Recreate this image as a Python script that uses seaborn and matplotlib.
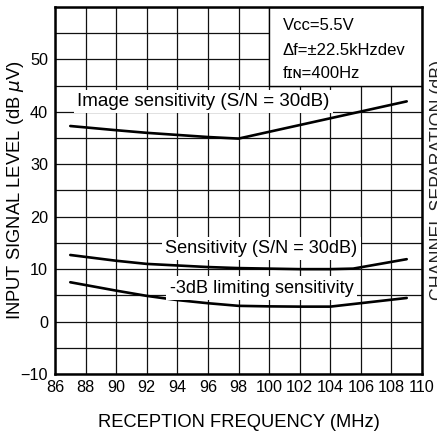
import matplotlib
matplotlib.use("Agg")
import matplotlib.pyplot as plt
import seaborn as sns
import pandas as pd
from matplotlib.patches import Rectangle

# ---- data ----
freq_image = [87, 90, 92, 94, 96, 98, 109]
image_sens = [37.3, 36.5, 36.0, 35.6, 35.2, 34.9, 42.0]

freq_sens = [87, 90, 92, 94, 96, 98, 100, 102, 104, 105.5, 109]
sens = [12.7, 11.6, 11.0, 10.7, 10.4, 10.2, 10.1, 10.0, 10.0, 10.1, 11.9]

freq_lim = [87, 90, 92, 94, 96, 98, 100, 102, 104, 109]
lim_sens = [7.5, 5.9, 4.9, 4.1, 3.5, 3.0, 2.9, 2.85, 2.85, 4.5]

series_names = ["Image sensitivity (S/N = 30dB)",
                "Sensitivity (S/N = 30dB)",
                "-3dB limiting sensitivity"]

x_ticks = list(range(86, 111, 2))
y_ticks = list(range(-10, 51, 10))
cond_lines = ["Vcc=5.5V", "\u0394f=\u00b122.5kHzdev", "f\u026a\u0274=400Hz"]

df = pd.concat([
    pd.DataFrame({"freq": freq_image, "level": image_sens, "series": series_names[0]}),
    pd.DataFrame({"freq": freq_sens, "level": sens, "series": series_names[1]}),
    pd.DataFrame({"freq": freq_lim, "level": lim_sens, "series": series_names[2]}),
])

sns.set_style("white")
plt.rcParams["font.family"] = ["Liberation Sans", "DejaVu Sans"]
plt.rcParams.update({"text.color": "black", "axes.labelcolor": "black",
                     "xtick.color": "black", "ytick.color": "black"})

fig = plt.figure(figsize=(4.37, 4.34), dpi=100)
ax = fig.add_axes([55 / 437, 60 / 434, 367 / 437, 367 / 434])

sns.lineplot(data=df, x="freq", y="level", hue="series", units="series",
             estimator=None, palette=["black"] * 3, legend=False,
             linewidth=1.9, ax=ax, zorder=3)

ax.set_xlim(86, 110)
ax.set_ylim(-10, 60)
ax.set_xticks(x_ticks)
ax.set_yticks(y_ticks)
ax.set_xticks(list(range(86, 111, 2)), minor=True)
ax.set_yticks(list(range(-10, 61, 5)), minor=True)
ax.set_axisbelow(True)
ax.grid(which="both", color="#111111", linewidth=0.9)
for s in ax.spines.values():
    s.set_linewidth(1.8)
    s.set_color("black")
ax.tick_params(axis="y", which="major", direction="out", length=3, width=1,
               labelsize=11.7, pad=2, colors="black")
ax.tick_params(axis="y", which="minor", length=0)
ax.tick_params(axis="x", which="both", length=0, labelsize=11.7, pad=4,
               colors="black")

ax.set_xlabel("RECEPTION FREQUENCY (MHz)", fontsize=13.2, labelpad=14,
              color="black")
ax.set_ylabel("INPUT SIGNAL LEVEL (dB $\\mu$V)", fontsize=13.2, color="black")
ax.yaxis.set_label_coords(-0.08, 0.5)

# condition box
ax.add_patch(Rectangle((100, 45), 10, 15, facecolor="white", edgecolor="black",
                       linewidth=1.0, zorder=1.5))
for txt, yb in zip(cond_lines, [55.6, 50.9, 46.5]):
    ax.text(100.9, yb, txt, fontsize=12, va="baseline", ha="left", zorder=4,
            color="black")

# curve labels
bb = dict(facecolor="white", edgecolor="none", boxstyle="square,pad=0.18")
ax.text(87.45, 41.1, series_names[0], fontsize=13.5, va="baseline", ha="left",
        bbox=bb, zorder=4, color="black")
ax.text(93.2, 13.1, series_names[1], fontsize=13.1, va="baseline", ha="left",
        bbox=bb, zorder=4, color="black")
ax.text(93.5, 5.5, series_names[2], fontsize=13.1, va="baseline", ha="left",
        bbox=bb, zorder=4, color="black")

# right axis label (clipped at figure edge in the reference)
fig.text(438 / 437, 1 - 180 / 434, "CHANNEL SEPARATION (dB)", rotation=90,
         fontsize=12.8, ha="center", va="center", color="#222222")

fig.savefig("out.png", dpi=100)
